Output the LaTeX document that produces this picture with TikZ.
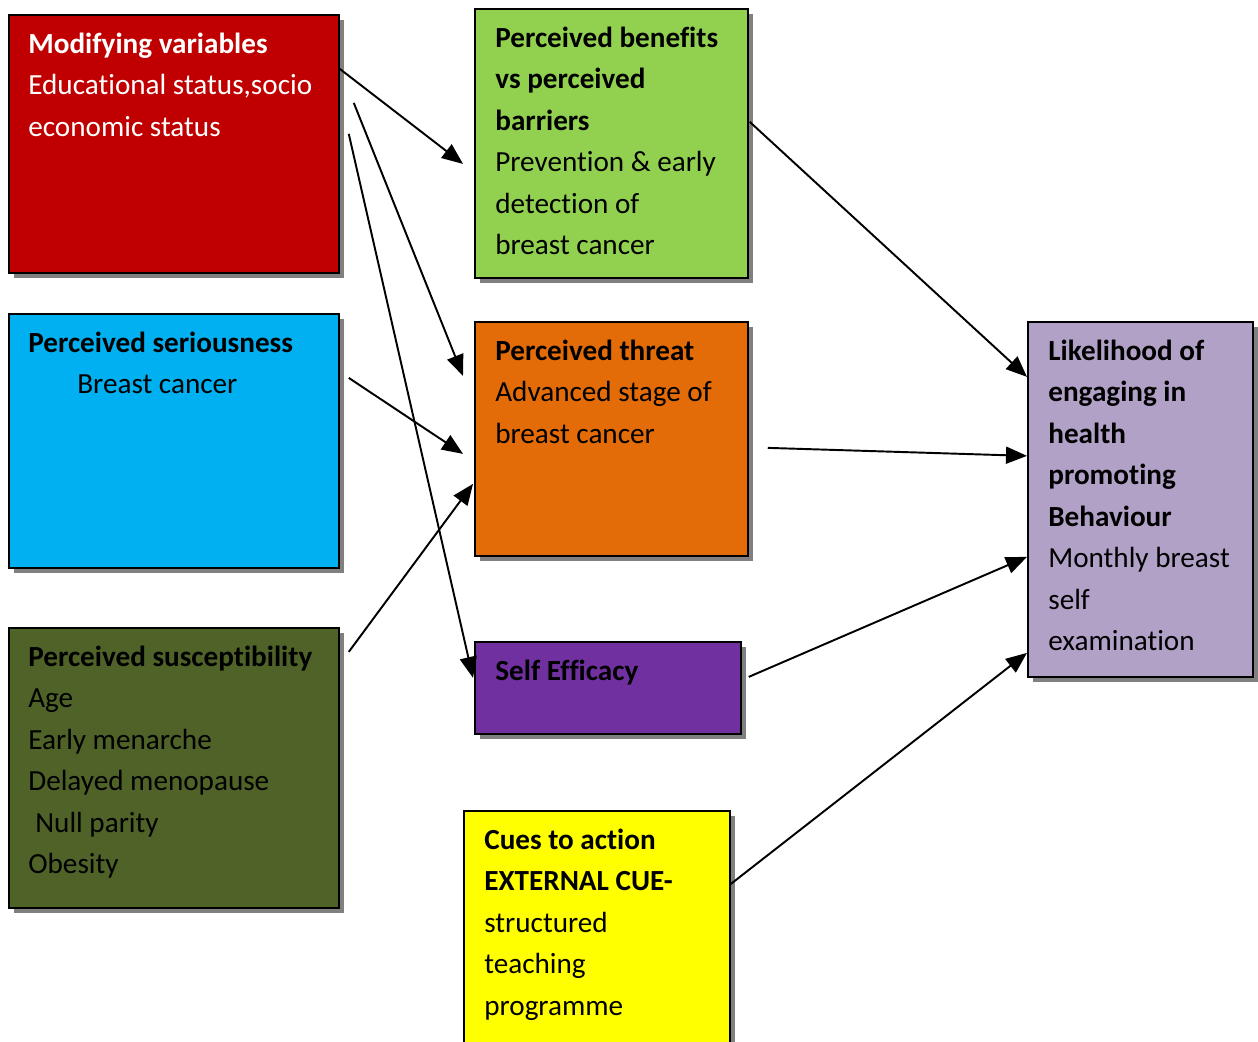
\documentclass[tikz,border=0pt]{standalone}
\usepackage{fontspec}
\setmainfont{Carlito}[Ligatures=NoCommon]
\usetikzlibrary{arrows.meta,shadows}

\definecolor{modred}{HTML}{C00000}
\definecolor{benefitgreen}{HTML}{92D050}
\definecolor{seriousblue}{HTML}{00B0F0}
\definecolor{threatorange}{HTML}{E36C09}
\definecolor{suscolive}{HTML}{4F6228}
\definecolor{efficacypurple}{HTML}{7030A0}
\definecolor{cueyellow}{HTML}{FFFF00}
\definecolor{likelilac}{HTML}{B2A1C7}

\begin{document}
\begin{tikzpicture}[
    box/.style={draw=black, line width=1pt, anchor=north west, inner sep=0pt,
      general shadow={fill=gray, shadow xshift=0.1cm, shadow yshift=-0.1cm}},
    txt/.style={anchor=north west, align=left, inner sep=0pt,
      font=\fontsize{16.6pt}{23.6pt}\selectfont},
    arr/.style={line width=1.1pt, -{Triangle[length=0.42cm,width=0.34cm]}}
  ]
  \useasboundingbox (0,0) rectangle (25.16,-20.84);

  % left column
  \node[box, fill=modred, minimum width=6.6cm, minimum height=5.16cm] (modify) at (0.16,-0.28) {};
  \node[txt, text=white] (modifytxt) at ([xshift=0.4cm,yshift=-0.2cm]modify.north west)
    {\strut\textbf{Modifying variables}\\Educational status,socio\\economic status};

  \node[box, fill=seriousblue, minimum width=6.6cm, minimum height=5.08cm] (serious) at (0.16,-6.26) {};
  \node[txt] (serioustxt) at ([xshift=0.4cm,yshift=-0.2cm]serious.north west)
    {\strut\textbf{Perceived seriousness}\\\hspace*{0.98cm}Breast cancer};

  \node[box, fill=suscolive, minimum width=6.6cm, minimum height=5.6cm] (suscept) at (0.16,-12.54) {};
  \node[txt] (susctxt) at ([xshift=0.4cm,yshift=-0.2cm]suscept.north west)
    {\strut\textbf{Perceived susceptibility}\\Age\\Early menarche\\Delayed menopause\\\hspace*{0.14cm}Null parity\\Obesity};

  % middle column
  \node[box, fill=benefitgreen, minimum width=5.46cm, minimum height=5.38cm] (benefit) at (9.48,-0.16) {};
  \node[txt] (benefittxt) at ([xshift=0.42cm,yshift=-0.2cm]benefit.north west)
    {\strut\textbf{Perceived benefits}\\\textbf{vs perceived}\\\textbf{barriers}\\Prevention \& early\\detection of\\breast cancer};

  \node[box, fill=threatorange, minimum width=5.46cm, minimum height=4.68cm] (threat) at (9.48,-6.42) {};
  \node[txt] (threattxt) at ([xshift=0.42cm,yshift=-0.2cm]threat.north west)
    {\strut\textbf{Perceived threat}\\Advanced stage of\\breast cancer};

  \node[box, fill=efficacypurple, minimum width=5.32cm, minimum height=1.84cm] (efficacy) at (9.48,-12.82) {};
  \node[txt] (efficacytxt) at ([xshift=0.42cm,yshift=-0.2cm]efficacy.north west)
    {\strut\textbf{Self Efficacy}};

  \node[box, fill=cueyellow, minimum width=5.32cm, minimum height=5.4cm] (cues) at (9.26,-16.2) {};
  \node[txt] (cuestxt) at ([xshift=0.42cm,yshift=-0.2cm]cues.north west)
    {\strut\textbf{Cues to action}\\\textbf{EXTERNAL CUE-}\\structured\\teaching\\programme};

  % right column
  \node[box, fill=likelilac, minimum width=4.5cm, minimum height=7.1cm] (likely) at (20.54,-6.42) {};
  \node[txt] (likelytxt) at ([xshift=0.42cm,yshift=-0.2cm]likely.north west)
    {\strut\textbf{Likelihood of}\\\textbf{engaging in}\\\textbf{health}\\\textbf{promoting}\\\textbf{Behaviour}\\Monthly breast\\self\\examination};

  % connectors
  \draw[arr] ([yshift=1.5cm]modify.east) -- ([xshift=-0.22cm,yshift=-0.41cm]benefit.west);
  \draw[arr] ([xshift=0.28cm,yshift=0.82cm]modify.east) -- ([xshift=-0.22cm,yshift=1.26cm]threat.west);
  \draw[arr] ([xshift=0.18cm,yshift=0.2cm]modify.east) -- ([xshift=-0.02cm,yshift=0.2cm]efficacy.west);
  \draw[arr] ([xshift=0.18cm,yshift=1.26cm]serious.east) -- ([xshift=-0.22cm,yshift=-0.3cm]threat.west);
  \draw[arr] ([xshift=0.18cm,yshift=2.32cm]suscept.east) -- ([xshift=-0.02cm,yshift=-0.9cm]threat.west);
  \draw[arr] ([xshift=0.02cm,yshift=0.43cm]benefit.east) -- ([yshift=2.45cm]likely.west);
  \draw[arr] ([xshift=0.38cm,yshift=-0.18cm]threat.east) -- ([yshift=0.87cm]likely.west);
  \draw[arr] ([xshift=0.14cm,yshift=0.22cm]efficacy.east) -- ([yshift=-1.15cm]likely.west);
  \draw[arr] ([yshift=-1.48cm]cues.north east) -- ([yshift=-3.07cm]likely.west);
\end{tikzpicture}
\end{document}
